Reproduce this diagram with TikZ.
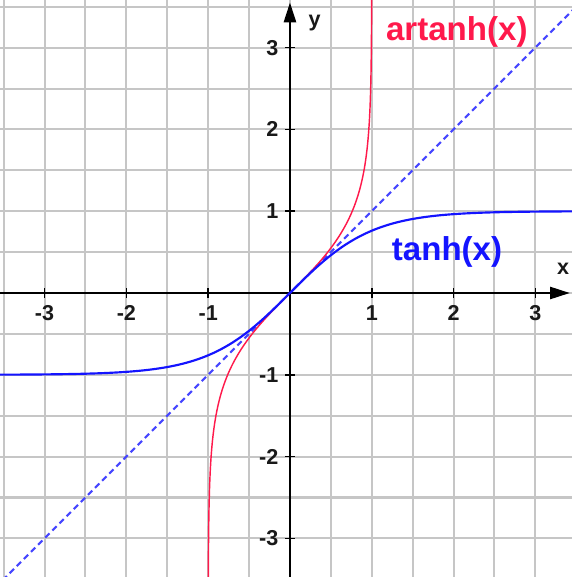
\documentclass[tikz,border=0pt]{standalone}
\usepackage{fontspec}
\setmainfont{Liberation Sans}
\usetikzlibrary{arrows.meta}
\definecolor{gridgray}{RGB}{198,198,198}
\definecolor{curvered}{RGB}{255,25,75}
\definecolor{curveblue}{RGB}{20,20,255}
\definecolor{diagblue}{RGB}{70,70,255}

\begin{document}
\begin{tikzpicture}[
  x=1cm, y=1cm,
  gridline/.style={gridgray, line width=0.7pt},
  axisline/.style={black, line width=0.55pt,
                   -{Triangle[length=2.4mm, width=1.5mm]}},
  tickmark/.style={black, line width=0.55pt},
  ticklabel/.style={font=\fontsize{7.5}{8.5}\selectfont\bfseries, inner sep=1pt,
                    text=black!90},
  curvelabel/.style={font=\fontsize{11.5}{13}\selectfont\bfseries, inner sep=0pt},
  tanhcurve/.style={curveblue, line width=0.75pt},
  artanhcurve/.style={curvered, line width=0.5pt},
  diagline/.style={diagblue, line width=0.75pt, dash pattern=on 2.1pt off 1.4pt}
]
  \useasboundingbox (-3.545,-3.472) rectangle (3.447,3.582);
  \clip (-3.545,-3.472) rectangle (3.447,3.582);

  \foreach \g in {-3.5,-3,...,3.5} {
    \draw[gridline] (\g,-3.6) -- (\g,3.7);
    \draw[gridline] (-3.6,\g) -- (3.6,\g);
  }

  \coordinate (xfrom) at (-3.545,0);
  \coordinate (xto) at (3.42,0);
  \coordinate (yfrom) at (0,-3.472);
  \coordinate (yto) at (0,3.55);
  \draw[axisline] (xfrom) -- (xto);
  \draw[axisline] (yfrom) -- (yto);

  \foreach \i in {-3,-2,-1,1,2,3} {
    \draw[tickmark] (\i,-0.06) -- (\i,0.06);
    \draw[tickmark] (-0.06,\i) -- (0.06,\i);
    \node[ticklabel] (xl\i) at (\i,-0.25) {\i};
    \node[ticklabel, anchor=east] (yl\i) at (-0.1,\i) {\i};
  }
  \node[ticklabel] (xname) at (3.34,0.29) {x};
  \node[ticklabel] (yname) at (0.3,3.3) {y};

  \draw[diagline] (-3.6,-3.6) -- (3.6,3.6);
  \draw[artanhcurve] plot[domain=-3.5:3.6, samples=200, smooth, variable=\t]
    ({tanh(\t)},\t);
  \draw[tanhcurve] plot[domain=-3.6:3.5, samples=150, smooth]
    (\x,{tanh(\x)});

  \node[curvelabel, text=curvered] (artanhlabel) at (2.04,3.19) {artanh(x)};
  \node[curvelabel, text=curveblue] (tanhlabel) at (1.92,0.5) {tanh(x)};
\end{tikzpicture}
\end{document}
